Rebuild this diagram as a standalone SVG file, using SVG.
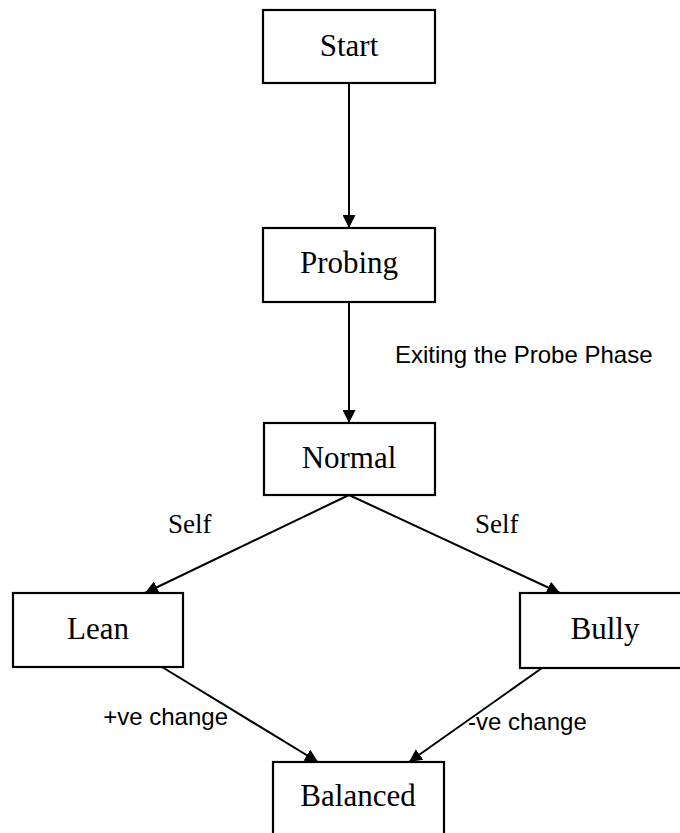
<svg xmlns="http://www.w3.org/2000/svg" width="680" height="833" viewBox="0 0 680 833">
<style>
.box{fill:#fff;stroke:#000;stroke-width:2.2}
.nt{font-family:"Liberation Serif","Times New Roman",serif;font-size:31px;fill:#000;text-anchor:middle}
.lbl{font-family:"Liberation Sans",Arial,sans-serif;font-size:24px;fill:#000}
.lbs{font-family:"Liberation Serif","Times New Roman",serif;font-size:27px;fill:#000}
.edge{stroke:#000;stroke-width:2;fill:none;marker-end:url(#ah)}
</style>
<defs>
<marker id="ah" viewBox="0 0 13 13" refX="13" refY="6.5" markerWidth="13" markerHeight="13" markerUnits="userSpaceOnUse" orient="auto">
<path d="M0,0 L13,6.5 L0,13 Z" fill="#000"/>
</marker>
</defs>
<rect width="680" height="833" fill="#fff"/>
<g id="connectors">
<line class="edge" x1="349" y1="83" x2="349" y2="228"/>
<line class="edge" x1="349" y1="302" x2="349" y2="423"/>
<line class="edge" x1="349" y1="495" x2="145" y2="593"/>
<line class="edge" x1="349" y1="495" x2="560" y2="593"/>
<line class="edge" x1="162" y1="667" x2="318" y2="762"/>
<line class="edge" x1="542" y1="668" x2="409" y2="762"/>
<text class="lbl" x="395" y="363">Exiting the Probe Phase</text>
<text class="lbs" x="168" y="533">Self</text>
<text class="lbs" x="475" y="533">Self</text>
<text class="lbl" x="228" y="725" text-anchor="end">+ve change</text>
<text class="lbl" x="468" y="730">-ve change</text>
</g>
<g id="start"><rect class="box" x="263" y="10" width="172" height="73"/><text class="nt" x="349" y="56">Start</text></g>
<g id="probing"><rect class="box" x="263" y="228" width="172" height="74"/><text class="nt" x="349" y="273">Probing</text></g>
<g id="normal"><rect class="box" x="264" y="423" width="171" height="72"/><text class="nt" x="349" y="468">Normal</text></g>
<g id="lean"><rect class="box" x="13" y="593" width="170" height="74"/><text class="nt" x="98" y="639">Lean</text></g>
<g id="bully"><rect class="box" x="520" y="593" width="170" height="75"/><text class="nt" x="605" y="639">Bully</text></g>
<g id="balanced"><rect class="box" x="273" y="762" width="171" height="80"/><text class="nt" x="358" y="806">Balanced</text></g>
</svg>
